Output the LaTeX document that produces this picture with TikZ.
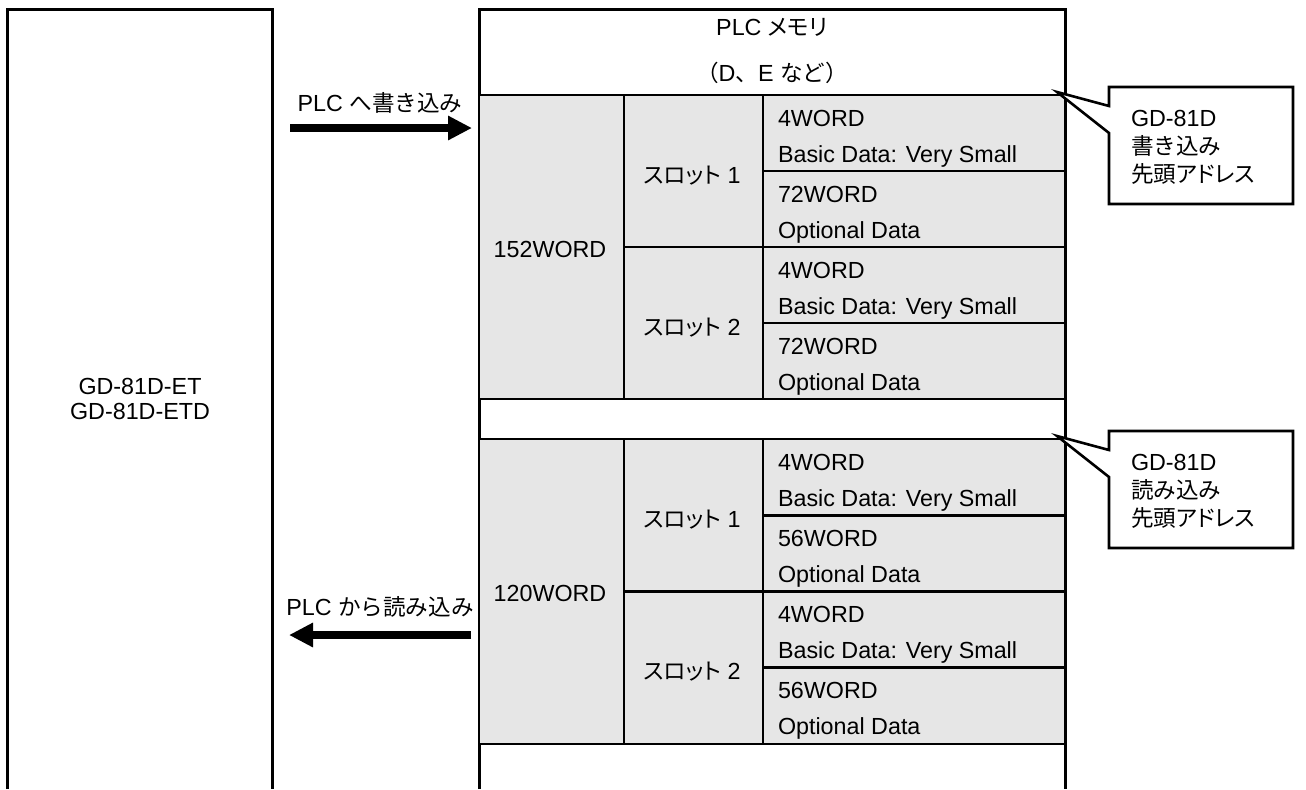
\documentclass[tikz,border=0pt]{standalone}
\usepackage{fontspec}
\setmainfont{Liberation Sans}
\newfontfamily\jp{Noto Sans CJK JP}[Scale=0.97]
\newfontfamily\jpp{Noto Sans CJK JP}[Scale=0.97,RawFeature=+palt]
\usetikzlibrary{arrows.meta}
\definecolor{cellgray}{RGB}{230,230,230}
\tikzset{
  frame/.style={line width=1.5pt, line join=miter},
  grid/.style={line width=1.3pt},
  txt/.style={inner sep=0pt, outer sep=0pt},
  bigarrow/.style={line width=4pt, -{Triangle[length=12pt,width=11.5pt]}},
  callout/.style={fill=white, draw, line width=1.3pt, line join=miter},
}
\begin{document}
\begin{tikzpicture}[x=0.5pt,y=-0.5pt,font=\fontsize{11.65pt}{14pt}\selectfont]
\useasboundingbox (0,0) rectangle (1306,789);

% left device box (open at bottom)
\draw[frame] (7,789) -- (7,9) -- (272,9) -- (272,789);
\node[txt, anchor=base] (dev1) at (140,394) {GD-81D-ET};
\node[txt, anchor=base] (dev2) at (140,419) {GD-81D-ETD};

% memory box (open at bottom)
\draw[frame] (479,789) -- (479,9) -- (1065,9) -- (1065,789);
\draw[grid] (479,95) -- (1065,95);
\node[txt, anchor=base] (mem1) at (772,35) {PLC {\jpp メモリ}};
\node[txt, anchor=base] (mem2) at (772,81) {{\jp （}D{\jp 、}E {\jp など）}};

% two blocks
\foreach \blk/\top/\h/\big/\tot in {w/95/76/72/152, r/439/76.25/56/120} {
  \fill[cellgray] (479,\top) rectangle (1065,\top+4*\h);
  \draw[grid] (479,\top) rectangle (1065,\top+4*\h);
  \draw[grid] (624,\top) -- (624,\top+4*\h);
  \draw[grid] (763,\top) -- (763,\top+4*\h);
  \draw[grid] (624,\top+2*\h) -- (1065,\top+2*\h);
  \draw[grid] (763,\top+\h) -- (1065,\top+\h);
  \draw[grid] (763,\top+3*\h) -- (1065,\top+3*\h);
  \node[txt, anchor=base] (\blk-tot) at (550,\top+2*\h+10) {\tot WORD};
  \node[txt, anchor=base] (\blk-s1) at (692,\top+\h+12) {{\jpp スロット} 1};
  \node[txt, anchor=base] (\blk-s2) at (692,\top+3*\h+12) {{\jpp スロット} 2};
  \foreach \k/\sl in {0/1, 2/2} {
    \node[txt, anchor=base west] (\blk-b\sl a) at (778,\top+\k*\h+31) {4WORD};
    \node[txt, anchor=base west] (\blk-b\sl b) at (778,\top+\k*\h+67) {Basic Data: Very Small};
    \node[txt, anchor=base west] (\blk-o\sl a) at (778,\top+\k*\h+\h+31) {\big WORD};
    \node[txt, anchor=base west] (\blk-o\sl b) at (778,\top+\k*\h+\h+67) {Optional Data};
  }
}

% arrows
\coordinate (wA) at (290,128);
\coordinate (wB) at (472,128);
\draw[bigarrow] (wA) -- (wB);
\node[txt, anchor=base] (wlbl) at (380,111) {PLC {\jp へ書き込み}};
\coordinate (rA) at (471,635);
\coordinate (rB) at (289,635);
\draw[bigarrow] (rA) -- (rB);
\node[txt, anchor=base] (rlbl) at (380,615) {PLC {\jp から読み込み}};

% callouts
\foreach \c/\dy/\w in {cw/0/書き込み, cr/344/読み込み} {
  \coordinate (\c-tip) at (1057,92+\dy);
  \draw[callout] (1109,87+\dy) -- (1293,87+\dy) -- (1293,204+\dy) -- (1109,204+\dy)
     -- (1109,133+\dy) -- (\c-tip) -- (1109,106+\dy) -- cycle;
  \node[txt, anchor=base west] (\c-1) at (1131,126+\dy) {GD-81D};
  \node[txt, anchor=base west] (\c-2) at (1131,154+\dy) {\jp \w};
  \node[txt, anchor=base west] (\c-3) at (1131,182+\dy) {\jp 先頭{\jpp アドレス}};
}
\end{tikzpicture}
\end{document}
